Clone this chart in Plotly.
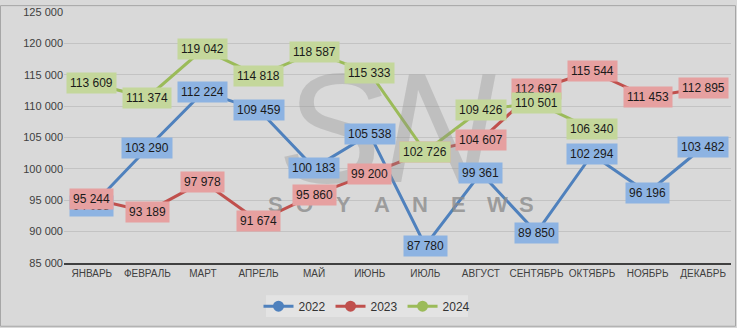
import plotly.graph_objects as go

# Monthly values by year
months = ["ЯНВАРЬ", "ФЕВРАЛЬ", "МАРТ", "АПРЕЛЬ", "МАЙ", "ИЮНЬ", "ИЮЛЬ",
          "АВГУСТ", "СЕНТЯБРЬ", "ОКТЯБРЬ", "НОЯБРЬ", "ДЕКАБРЬ"]
v2022 = [94038, 103290, 112224, 109459, 100183, 105538, 87780,
         99361, 89850, 102294, 96196, 103482]
v2023 = [95244, 93189, 97978, 91674, 95860, 99200, 102726,
         104607, 112697, 115544, 111453, 112895]
v2024 = [113609, 111374, 119042, 114818, 118587, 115333, 102726,
         109426, 110501, 106340, None, None]

y_ticks = [85000, 90000, 95000, 100000, 105000, 110000, 115000, 120000, 125000]

series = [
    ("2022", v2022, "#4f81bd", "#8db3e2"),
    ("2023", v2023, "#c0504d", "#e6a0a0"),
    ("2024", v2024, "#9bbb59", "#c4d79b"),
]


def fmt(v):
    return f"{v:,}".replace(",", " ")


fig = go.Figure()
annotations = []
for name, vals, line_c, box_c in series:
    fig.add_trace(go.Scatter(
        x=months, y=vals, name=name, mode="lines+markers",
        line=dict(color=line_c, width=3),
        marker=dict(color=line_c, size=11),
        connectgaps=False,
    ))
    for m, v in zip(months, vals):
        if v is None:
            continue
        annotations.append(dict(
            x=m, y=v, xref="x", yref="y", text=fmt(v), showarrow=False,
            bgcolor=box_c, borderpad=3,
            font=dict(family="Liberation Sans", size=12, color="#1a1a1a"),
        ))

# Layout geometry in pixels
W, H = 737, 328
L, R, T, B = 64, 6, 7, 65
pw, ph = W - L - R, H - T - B


def px(x):
    return (x - L) / pw


def py(y):
    return 1 - (y - T) / ph


shapes = [
    dict(type="rect", xref="paper", yref="paper",
         x0=px(0.5), x1=px(W - 1.5), y0=py(H - 0.5), y1=py(0.5),
         line=dict(color="#a6a6a6", width=1), layer="above"),
    dict(type="rect", xref="paper", yref="paper",
         x0=px(266), x1=px(468), y0=py(318), y1=py(296),
         fillcolor="#e3e3e3", line=dict(width=0), layer="below"),
]

# Watermark
wm = dict(xref="paper", yref="paper", showarrow=False, yanchor="middle")
annotations.insert(0, dict(
    **wm, x=px(388), y=py(126), text="<i>SN</i>",
    font=dict(family="Liberation Sans", size=155, color="rgba(140,140,140,0.33)"),
))
for i, ch in enumerate("SOYANEWS"):
    annotations.insert(1, dict(
        **wm, x=px(266 + i * 38.5), y=py(203), text=f"<b>{ch}</b>",
        font=dict(family="Liberation Sans", size=22, color="rgba(140,140,140,0.8)"),
    ))

fig.update_layout(
    width=W, height=H,
    margin=dict(l=L, r=R, t=T, b=B),
    paper_bgcolor="#d9d9d9", plot_bgcolor="#d9d9d9",
    font=dict(family="Liberation Sans", color="#404040", size=11),
    showlegend=True,
    legend=dict(orientation="h", x=px(367), y=py(307), xanchor="center",
                yanchor="middle", bgcolor="rgba(0,0,0,0)",
                font=dict(size=12, color="#333333"), itemwidth=30),
    annotations=annotations,
    shapes=shapes,
    xaxis=dict(showgrid=False, showline=True, linecolor="#404040", linewidth=2,
               ticks="", tickangle=0, tickfont=dict(size=10, color="#404040"),
               range=[-0.5, 11.5]),
    yaxis=dict(range=[85000, 125000], tickvals=y_ticks,
               ticktext=[fmt(t) for t in y_ticks],
               showgrid=True, gridcolor="#c3c3c3", gridwidth=1,
               zeroline=False, showline=False, ticks="",
               tickfont=dict(size=11, color="#404040")),
)

fig.write_html("out.html")
